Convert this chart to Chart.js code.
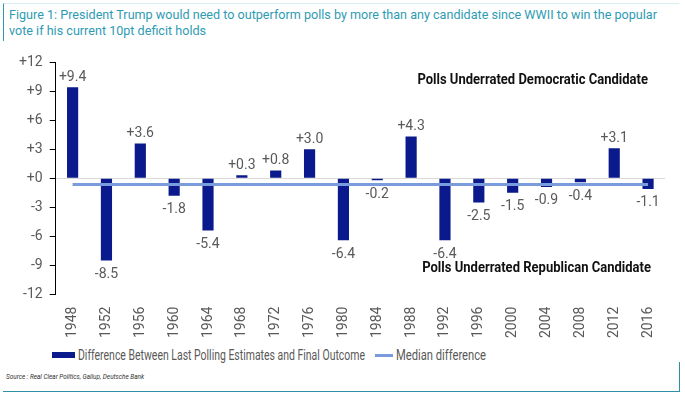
<!DOCTYPE html>
<html>
<head>
<meta charset="utf-8">
<script src="https://cdn.jsdelivr.net/npm/chart.js@4.4.1/dist/chart.umd.min.js"></script>
<style>
  html, body { margin: 0; padding: 0; background: #fff; }
  #wrap { position: relative; width: 685px; height: 394px; overflow: hidden; }
  #title {
    position: absolute; left: 3px; top: 3px; width: 676px; height: 38px;
    border-left: 1px solid #2f9bb3; border-top: 1px solid #d6eef3;
    color: #2f9bb3; font: 12.6px Roboto, sans-serif;
    line-height: 16px; padding: 3px 0 0 5px; box-sizing: border-box;
  }
  #source {
    position: absolute; left: 3px; top: 362px; width: 677px; height: 30px;
    border-bottom: 1px solid #2f8fa5; border-right: 1px solid #2f8fa5;
    box-sizing: border-box; padding: 11px 0 0 3px;
    font: italic 6.4px Roboto, sans-serif; color: #333;
  }
  #chartBox { position: absolute; left: 0; top: 45px; width: 685px; height: 297px; }
  .lg { position: absolute; font: 14px Roboto, sans-serif; color: #595959;
        white-space: nowrap; transform-origin: 0 50%; line-height: 16px; }
</style>
</head>
<body>
<div id="wrap">
  <div id="title">Figure 1: President Trump would need to outperform polls by more than any candidate since WWII to win the popular<br>vote if his current 10pt deficit holds</div>
  <div id="chartBox"><canvas id="chart"></canvas></div>
  <div id="legend"></div>
  <div id="source">Source : Real Clear Politics, Gallup, Deutsche Bank</div>
</div>
<script>
const years = ['1948', '1952', '1956', '1960', '1964', '1968', '1972', '1976', '1980', '1984',
  '1988', '1992', '1996', '2000', '2004', '2008', '2012', '2016'];
const pollDiff = [9.4, -8.5, 3.6, -1.8, -5.4, 0.3, 0.8, 3.0, -6.4, -0.2,
  4.3, -6.4, -2.5, -1.5, -0.9, -0.4, 3.1, -1.1];
const medianDiff = [-0.65, -0.65, -0.65, -0.65, -0.65, -0.65, -0.65, -0.65, -0.65, -0.65,
  -0.65, -0.65, -0.65, -0.65, -0.65, -0.65, -0.65, -0.65];
const yTicks = [12, 9, 6, 3, 0, -3, -6, -9, -12];

const BAR_COLOR = '#0a1a8c';
const MEDIAN_COLOR = '#7a9cdc';
const fmt = v => (v >= 0 ? '+' : '') + v.toFixed(1);

// squeeze text horizontally so it looks like the condensed face of the original
function condensedText(ctx, text, x, y, squeeze) {
  ctx.save();
  ctx.translate(x, y);
  ctx.scale(squeeze, 1);
  ctx.fillText(text, 0, 0);
  ctx.restore();
}

// value labels on bars + the two side notes
const barLabels = {
  id: 'barLabels',
  afterDatasetsDraw(chart) {
    const ctx = chart.ctx;
    const meta = chart.getDatasetMeta(1);
    ctx.save();
    ctx.font = '14px Roboto, Arial, sans-serif';
    ctx.fillStyle = '#595959';
    ctx.textAlign = 'center';
    meta.data.forEach((bar, i) => {
      const v = pollDiff[i];
      if (v >= 0) {
        ctx.textBaseline = 'bottom';
        ctx.fillText(fmt(v), bar.x, bar.y - 3);
      } else {
        ctx.textBaseline = 'top';
        ctx.fillText(fmt(v), bar.x, bar.y + 7);
      }
    });
    const area = chart.chartArea;
    const y = chart.scales.y;
    ctx.font = 'bold 14px Roboto, Arial, sans-serif';
    ctx.fillStyle = '#111';
    ctx.textAlign = 'right';
    ctx.textBaseline = 'middle';
    condensedText(ctx, 'Polls Underrated Democratic Candidate', area.right - 17, y.getPixelForValue(10.1), 0.93);
    condensedText(ctx, 'Polls Underrated Republican Candidate', area.right - 14, y.getPixelForValue(-9.3), 0.93);
    ctx.restore();
  }
};

new Chart(document.getElementById('chart'), {
  data: {
    labels: years,
    datasets: [
      {
        type: 'line',
        label: 'Median difference',
        data: medianDiff,
        borderColor: MEDIAN_COLOR,
        backgroundColor: MEDIAN_COLOR,
        borderWidth: 3,
        pointRadius: 0,
        order: 0
      },
      {
        type: 'bar',
        label: 'Difference Between Last Polling Estimates and Final Outcome',
        data: pollDiff,
        backgroundColor: BAR_COLOR,
        barPercentage: 0.33,
        categoryPercentage: 1,
        order: 1
      }
    ]
  },
  options: {
    responsive: true,
    maintainAspectRatio: false,
    animation: false,
    layout: { padding: { left: 12, right: 20, top: 17, bottom: 0 } },
    scales: {
      x: {
        grid: { display: false },
        border: { display: false },
        ticks: {
          minRotation: 90,
          maxRotation: 90,
          color: '#595959',
          font: { size: 14, family: 'Roboto, Arial, sans-serif' },
          padding: 4
        }
      },
      y: {
        min: -12,
        max: 12,
        afterBuildTicks: axis => { axis.ticks = yTicks.map(v => ({ value: v })); },
        border: { color: '#000', width: 1 },
        grid: {
          color: c => c.tick && c.tick.value === 0 ? '#d9d9d9' : 'rgba(0,0,0,0)',
          tickColor: '#000',
          tickLength: 6,
          lineWidth: 1
        },
        ticks: {
          color: '#595959',
          font: { size: 14, family: 'Roboto, Arial, sans-serif' },
          padding: 7,
          callback: v => (v >= 0 ? '+' : '') + v
        }
      }
    },
    plugins: {
      legend: { display: false },
      tooltip: { enabled: false }
    }
  },
  plugins: [barLabels]
});

// legend below the axis, text squeezed to the original narrow face
const legend = document.getElementById('legend');
const items = [
  { kind: 'box', label: 'Difference Between Last Polling Estimates and Final Outcome', x: 52, w: 23, width: 287 },
  { kind: 'line', label: 'Median difference', x: 375, w: 18, width: 90 }
];
items.forEach(it => {
  const sym = document.createElement('div');
  sym.style.position = 'absolute';
  sym.style.left = it.x + 'px';
  sym.style.width = it.w + 'px';
  if (it.kind === 'box') {
    sym.style.top = '352px'; sym.style.height = '6px'; sym.style.background = BAR_COLOR;
  } else {
    sym.style.top = '354px'; sym.style.height = '3px'; sym.style.background = MEDIAN_COLOR;
  }
  legend.appendChild(sym);
  const txt = document.createElement('div');
  txt.className = 'lg';
  txt.textContent = it.label;
  txt.style.left = (it.x + it.w + 3) + 'px';
  txt.style.top = '347px';
  legend.appendChild(txt);
  const k = it.width / txt.getBoundingClientRect().width;
  txt.style.transform = 'scaleX(' + k + ')';
});
</script>
</body>
</html>
